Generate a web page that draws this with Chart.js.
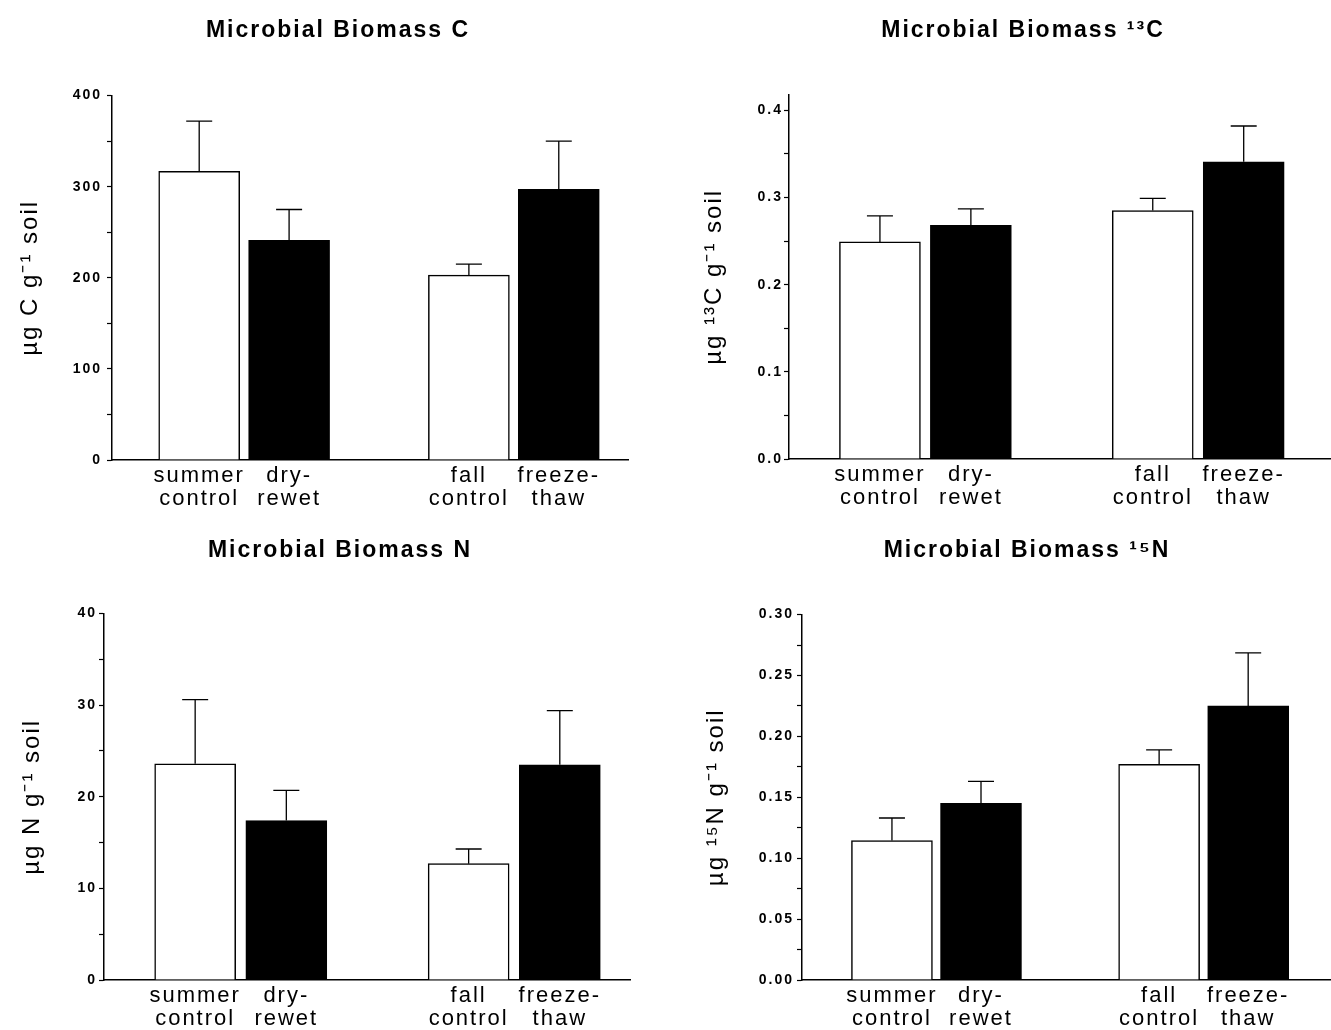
<!DOCTYPE html>
<html>
<head>
<meta charset="utf-8">
<script src="https://cdn.jsdelivr.net/npm/chart.js@4.4.1/dist/chart.umd.min.js"></script>
<style>
    html, body { margin: 0; padding: 0; background: #fff; width: 1331px; height: 1030px; overflow: hidden; }
    canvas { position: absolute; }
</style>
</head>
<body>
<canvas id="chartC" style="left:0;top:0" width="676" height="520"></canvas>
<canvas id="chart13C" style="left:676px;top:0" width="694" height="520"></canvas>
<canvas id="chartN" style="left:0;top:520px" width="680" height="510"></canvas>
<canvas id="chart15N" style="left:676px;top:520px" width="702" height="510"></canvas>
<script>
// treatments, in plotting order (a gap sits between summer and fall pairs)
const treatments = [['summer', 'control'], ['dry-', 'rewet'], ['fall', 'control'], ['freeze-', 'thaw']];
const slots = [0, 1, 3, 4];
const fills = ['#ffffff', '#000000', '#ffffff', '#000000'];

// microbial biomass C (ug C / g soil), upward error = SE
const biomassC = [317, 241, 203, 297];
const biomassCErr = [55, 34, 12, 53];
const biomassCTicks = [0, 50, 100, 150, 200, 250, 300, 350, 400];
const biomassCTickLabels = ['0', '', '100', '', '200', '', '300', '', '400'];

// microbial biomass 13C
const biomass13C = [0.249, 0.268, 0.285, 0.341];
const biomass13CErr = [0.030, 0.019, 0.014, 0.041];
const biomass13CTicks = [0, 0.05, 0.1, 0.15, 0.2, 0.25, 0.3, 0.35, 0.4];
const biomass13CTickLabels = ['0.0', '', '0.1', '', '0.2', '', '0.3', '', '0.4'];

// microbial biomass N
const biomassN = [23.6, 17.4, 12.7, 23.5];
const biomassNErr = [7.0, 3.3, 1.6, 5.9];
const biomassNTicks = [0, 5, 10, 15, 20, 25, 30, 35, 40];
const biomassNTickLabels = ['0', '', '10', '', '20', '', '30', '', '40'];

// microbial biomass 15N
const biomass15N = [0.1145, 0.145, 0.177, 0.225];
const biomass15NErr = [0.0185, 0.018, 0.012, 0.0435];
const biomass15NTicks = [0, 0.025, 0.05, 0.075, 0.1, 0.125, 0.15, 0.175, 0.2, 0.225, 0.25, 0.275, 0.3];
const biomass15NTickLabels = ['0.00', '', '0.05', '', '0.10', '', '0.15', '', '0.20', '', '0.25', '', '0.30'];

Chart.defaults.font.family = '"Liberation Sans", Arial, Helvetica, sans-serif';
Chart.defaults.color = '#000';

// old typeset figure has wide letter spacing
const tracking = {
    id: 'tracking',
    beforeUpdate(chart) { chart.ctx.letterSpacing = '2px'; },
    beforeDraw(chart) { chart.ctx.letterSpacing = '2px'; }
};

// upward-only error bars with a cap
const errorBars = {
    id: 'errorBars',
    afterDatasetsDraw(chart) {
        const ctx = chart.ctx;
        const yScale = chart.scales.y;
        const ds = chart.data.datasets[0];
        const meta = chart.getDatasetMeta(0);
        ctx.save();
        ctx.strokeStyle = '#000';
        ctx.lineWidth = 1.3;
        meta.data.forEach((bar, i) => {
            const top = yScale.getPixelForValue(ds.data[i].y + ds.errors[i]);
            ctx.beginPath();
            ctx.moveTo(bar.x, bar.y);
            ctx.lineTo(bar.x, top);
            ctx.moveTo(bar.x - 13, top);
            ctx.lineTo(bar.x + 13, top);
            ctx.stroke();
        });
        ctx.restore();
    }
};

function makePanel(p) {
    new Chart(document.getElementById(p.id), {
        type: 'bar',
        data: {
            datasets: [{
                data: slots.map((s, i) => ({ x: s, y: p.values[i] })),
                errors: p.errors,
                backgroundColor: fills,
                borderColor: '#000',
                borderWidth: 1.5,
                barThickness: 81
            }]
        },
        plugins: [tracking, errorBars],
        options: {
            responsive: false,
            animation: false,
            layout: { padding: { left: p.padLeft, right: p.padRight, top: 0, bottom: 0 } },
            scales: {
                x: {
                    type: 'linear',
                    min: p.xMin,
                    max: p.xMax,
                    offset: false,
                    z: 1,
                    afterBuildTicks: (scale) => { scale.ticks = slots.map(v => ({ value: v })); },
                    afterFit: (scale) => { scale.height = p.xHeight; },
                    grid: { display: false },
                    border: { display: true, color: '#000', width: 1.5 },
                    ticks: {
                        autoSkip: false,
                        maxRotation: 0,
                        padding: -4,
                        font: { size: 22, lineHeight: 1.06 },
                        callback: (value) => treatments[slots.indexOf(value)]
                    }
                },
                y: {
                    min: 0,
                    max: p.yMax,
                    afterBuildTicks: (scale) => { scale.ticks = p.ticks.map(v => ({ value: v })); },
                    afterFit: (scale) => { scale.width = p.yWidth; },
                    grid: { display: true, drawOnChartArea: false, drawTicks: true, tickLength: 5, tickColor: '#000', tickWidth: 1.2 },
                    border: { display: true, color: '#000', width: 1.5 },
                    ticks: {
                        autoSkip: false,
                        padding: p.tickPad,
                        font: { size: 14, weight: 'bold' },
                        callback: (value, index) => p.tickLabels[index]
                    },
                    title: {
                        display: true,
                        text: p.yTitle,
                        font: { size: 24, lineHeight: 1.2 },
                        padding: { top: p.yTitlePad, bottom: 0 }
                    }
                }
            },
            plugins: {
                legend: { display: false },
                tooltip: { enabled: false },
                title: {
                    display: true,
                    text: p.title,
                    font: { size: 23, weight: 'bold', lineHeight: 1.2 },
                    padding: { top: 17, bottom: p.titleBottom }
                }
            }
        }
    });
}

makePanel({
    id: 'chartC', title: 'Microbial Biomass C', yTitle: 'µg C g⁻¹ soil',
    values: biomassC, errors: biomassCErr, ticks: biomassCTicks, tickLabels: biomassCTickLabels,
    yMax: 400, xMin: -0.97, xMax: 4.77, padLeft: 48, yWidth: 64, padRight: 48, xHeight: 60,
    titleBottom: 51, tickPad: 5, yTitlePad: -32.4
});
makePanel({
    id: 'chart13C', title: 'Microbial Biomass ¹³C', yTitle: 'µg ¹³C g⁻¹ soil',
    values: biomass13C, errors: biomass13CErr, ticks: biomass13CTicks, tickLabels: biomass13CTickLabels,
    yMax: 0.418, xMin: -1.0, xMax: 4.96, padLeft: 39, yWidth: 74, padRight: 39, xHeight: 61,
    titleBottom: 50, tickPad: 1, yTitlePad: -15.4
});
makePanel({
    id: 'chartN', title: 'Microbial Biomass N', yTitle: 'µg N g⁻¹ soil',
    values: biomassN, errors: biomassNErr, ticks: biomassNTicks, tickLabels: biomassNTickLabels,
    yMax: 40, xMin: -1.0, xMax: 4.77, padLeft: 50, yWidth: 54, padRight: 50, xHeight: 50,
    titleBottom: 49, tickPad: 2, yTitlePad: -32.4
});
makePanel({
    id: 'chart15N', title: 'Microbial Biomass ¹⁵N', yTitle: 'µg ¹⁵N g⁻¹ soil',
    values: biomass15N, errors: biomass15NErr, ticks: biomass15NTicks, tickLabels: biomass15NTickLabels,
    yMax: 0.30, xMin: -1.01, xMax: 4.93, padLeft: 47, yWidth: 79, padRight: 47, xHeight: 50,
    titleBottom: 50, tickPad: 3, yTitlePad: -21.4
});
</script>
</body>
</html>
